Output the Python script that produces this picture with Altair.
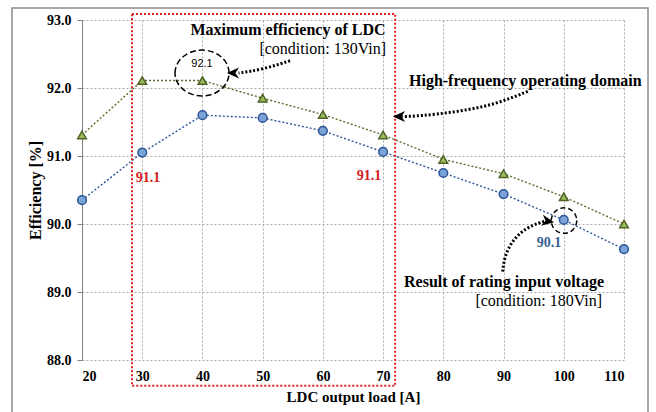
import altair as alt
import pandas as pd

# ---- data ----
load = [20, 30, 40, 50, 60, 70, 80, 90, 100, 110]
eff_130vin = [91.31, 92.11, 92.11, 91.85, 91.61, 91.31, 90.95, 90.74, 90.40, 90.00]
eff_180vin = [90.35, 91.05, 91.60, 91.56, 91.37, 91.06, 90.75, 90.44, 90.06, 89.63]

x_ticks = [20, 30, 40, 50, 60, 70, 80, 90, 100, 110]
y_ticks = [88, 89, 90, 91, 92, 93]

SERIF = "Liberation Serif"
SANS = "Liberation Sans"

df130 = pd.DataFrame({"load": load, "eff": eff_130vin})
df180 = pd.DataFrame({"load": load, "eff": eff_180vin})

xs = alt.Scale(domain=[20, 110], nice=False, zero=False)
ys = alt.Scale(domain=[88, 93], nice=False, zero=False)

X = alt.X("load:Q", scale=xs, axis=alt.Axis(
    values=x_ticks, title="LDC  output load [A]", format="d",
    grid=True, gridDash=[2, 2], gridColor="#aaaaaa", domain=False,
    ticks=False, labelPadding=9, titlePadding=6,
    labelFont=SERIF, labelFontWeight="bold", labelFontSize=14, labelColor="#000",
    titleFont=SERIF, titleFontWeight="bold", titleFontSize=15, titleColor="#000"))
Y = alt.Y("eff:Q", scale=ys, axis=alt.Axis(
    values=y_ticks, title="Efficiency [%]", format=".1f",
    grid=True, gridDash=[2, 2], gridColor="#aaaaaa", domain=True, domainColor="#808080",
    ticks=True, tickColor="#808080", tickSize=5, labelPadding=6, titlePadding=3,
    labelFont=SERIF, labelFontWeight="bold", labelFontSize=14, labelColor="#000",
    titleFont=SERIF, titleFontWeight="bold", titleFontSize=16, titleColor="#000"))

frame = alt.Chart(pd.DataFrame({"a": [0]})).mark_rect(
    fill=None, stroke="#8c8c8c", strokeWidth=1.5).encode(
    x=alt.value(-70), x2=alt.value(566), y=alt.value(-12), y2=alt.value(420))

line130 = alt.Chart(df130).mark_line(color="#5a6e2c", strokeDash=[2, 2], strokeWidth=1.4).encode(x=X, y=Y)
pts130 = alt.Chart(df130).mark_point(shape="triangle-up", filled=True, size=75,
                                     fill="#9bbb59", stroke="#4f6228", strokeWidth=1.5, opacity=1).encode(x=X, y=Y)
line180 = alt.Chart(df180).mark_line(color="#2f5597", strokeDash=[2, 2], strokeWidth=1.4).encode(x=X, y=Y)
pts180 = alt.Chart(df180).mark_point(shape="circle", filled=True, size=75,
                                     fill="#7aa3d6", stroke="#2f5597", strokeWidth=1.5, opacity=1).encode(x=X, y=Y)

# ---- annotations ----
rect_df = pd.DataFrame({"x": [28.3], "x2": [72.0], "y": [93.09], "y2": [87.62]})
red_box = alt.Chart(rect_df).mark_rect(fill=None, stroke="#e02020", strokeWidth=2, strokeDash=[2, 2]).encode(
    x=alt.X("x:Q", scale=xs), x2="x2:Q", y=alt.Y("y:Q", scale=ys), y2="y2:Q")

ell_path = "M -1 0 A 1 0.85 0 1 1 1 0 A 1 0.85 0 1 1 -1 0 Z"
ell1 = alt.Chart(pd.DataFrame({"x": [39.93], "y": [92.22]})).mark_point(
    shape=ell_path, size=2916, filled=False, stroke="#000", strokeWidth=1.5, strokeDash=[6, 3], opacity=1).encode(
    x=alt.X("x:Q", scale=xs), y=alt.Y("y:Q", scale=ys))
ell2 = alt.Chart(pd.DataFrame({"x": [100.04], "y": [90.05]})).mark_point(
    shape="circle", size=650, filled=False, stroke="#000", strokeWidth=1.5, strokeDash=[5, 3], opacity=1).encode(
    x=alt.X("x:Q", scale=xs), y=alt.Y("y:Q", scale=ys))

arrow_pts = pd.DataFrame({
    "arrow": ["a1"] * 3 + ["a2"] * 6 + ["a3"] * 6,
    "order": [0, 1, 2] + list(range(6)) + list(range(6)),
    "x": [54.54, 49.89, 46.0,
          94.01, 88.91, 84.26, 78.78, 74.13, 73.0,
          89.86, 90.13, 91.52, 93.73, 95.94, 97.0],
    "y": [92.40, 92.27, 92.22,
          91.95, 91.77, 91.68, 91.61, 91.58, 91.58,
          89.30, 89.52, 89.77, 89.94, 90.02, 90.04],
})
arrows = alt.Chart(arrow_pts).mark_line(color="#000", strokeWidth=3, strokeDash=[2, 2], interpolate="basis").encode(
    x=alt.X("x:Q", scale=xs), y=alt.Y("y:Q", scale=ys), detail="arrow:N", order="order:Q")

head_path = "M -1 0 L 1 -0.9 L 0.4 0 L 1 0.9 Z"
heads_df = pd.DataFrame({"x": [45.07, 72.64, 97.38], "y": [92.22, 91.58, 90.04], "ang": [0, 0, 190]})
heads = alt.Chart(heads_df).mark_point(shape=head_path, filled=True, fill="#000", size=150, opacity=1).encode(
    x=alt.X("x:Q", scale=xs), y=alt.Y("y:Q", scale=ys), angle=alt.Angle("ang:Q", scale=None))

def txt(x, y, s, **kw):
    return alt.Chart(pd.DataFrame({"x": [x], "y": [y], "t": [s]})).mark_text(**kw).encode(
        x=alt.X("x:Q", scale=xs), y=alt.Y("y:Q", scale=ys), text="t:N")

texts = [
    txt(54.2, 92.86, "Maximum efficiency of LDC", font=SERIF, fontWeight="bold", fontSize=16, align="center", baseline="middle", color="#000"),
    txt(70.48, 92.58, "[condition: 130Vin]", font=SERIF, fontSize=16, align="right", baseline="middle", color="#000"),
    txt(74.3, 92.11, "High-frequency operating domain", font=SERIF, fontWeight="bold", fontSize=16, align="left", baseline="middle", color="#000"),
    txt(73.47, 89.14, "Result of rating input voltage", font=SERIF, fontWeight="bold", fontSize=16, align="left", baseline="middle", color="#000"),
    txt(106.35, 88.87, "[condition: 180Vin]", font=SERIF, fontSize=16, align="right", baseline="middle", color="#000"),
    txt(39.93, 92.36, "92.1", font=SANS, fontSize=11, align="center", baseline="middle", color="#000"),
    txt(30.96, 90.67, "91.1", font=SERIF, fontWeight="bold", fontSize=14, align="center", baseline="middle", color="#d42020"),
    txt(67.66, 90.71, "91.1", font=SERIF, fontWeight="bold", fontSize=14, align="center", baseline="middle", color="#d42020"),
    txt(97.55, 89.72, "90.1", font=SERIF, fontWeight="bold", fontSize=14, align="center", baseline="middle", color="#376092"),
]

chart = alt.layer(frame, line130, line180, pts130, pts180, red_box, ell1, ell2, arrows, heads, *texts).properties(
    width=542, height=340,
    autosize=alt.AutoSizeParams(type="none"),
    padding={"left": 82, "top": 20, "right": 32, "bottom": 52},
    background="white",
).configure_view(stroke=None)

chart.save("out.html", embed_options={"renderer": "svg", "actions": False})
